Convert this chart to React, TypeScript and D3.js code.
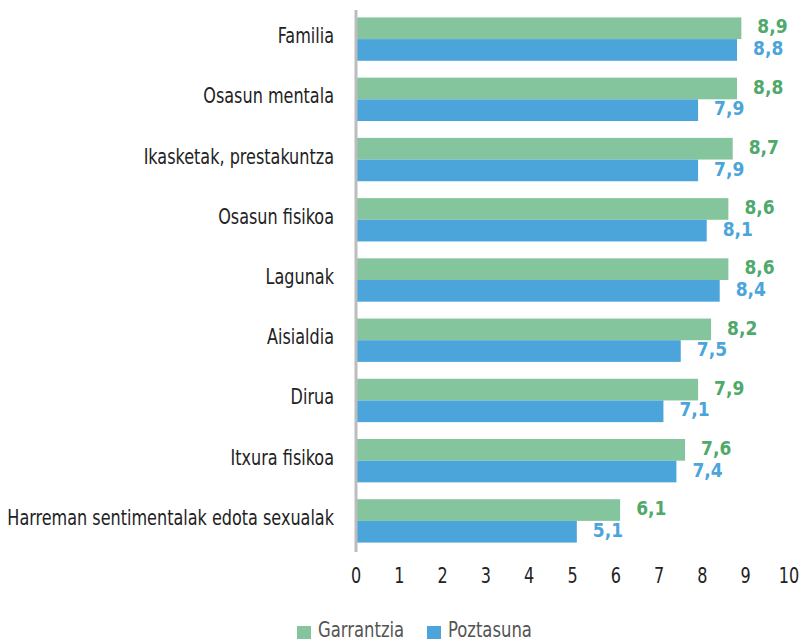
import React from 'react';
import * as d3 from 'd3';

const categories = [
  'Familia',
  'Osasun mentala',
  'Ikasketak, prestakuntza',
  'Osasun fisikoa',
  'Lagunak',
  'Aisialdia',
  'Dirua',
  'Itxura fisikoa',
  'Harreman sentimentalak edota sexualak',
];
const garrantzia = [8.9, 8.8, 8.7, 8.6, 8.6, 8.2, 7.9, 7.6, 6.1];
const poztasuna = [8.8, 7.9, 7.9, 8.1, 8.4, 7.5, 7.1, 7.4, 5.1];
const seriesNames = ['Garrantzia', 'Poztasuna'];
const xTicks = [0, 1, 2, 3, 4, 5, 6, 7, 8, 9, 10];

const barColors = ['#85C59E', '#4BA5DB'];
const labelColors = ['#4FA96A', '#4BA5DB'];
const font = '"DejaVu Sans Condensed", "DejaVu Sans", sans-serif';

// condensed text: squeeze the glyphs horizontally to get the narrow look
const Txt = ({ x, y, anchor = 'start', sx = 0.85, size = 21, children, ...rest }: any) => (
  <text
    transform={`translate(${x},${y}) scale(${sx},1)`}
    textAnchor={anchor}
    dominantBaseline="central"
    fontSize={size}
    {...rest}
  >
    {children}
  </text>
);

const App = () => {
  const width = 801;
  const height = 641;
  const x = d3.scaleLinear().domain([0, 10]).range([356, 789]);
  const y = d3.scaleBand().domain(categories).range([9, 551]).paddingInner(0.28).paddingOuter(0.14);
  const sub = d3.scaleBand().domain(seriesNames).range([0, y.bandwidth()]);
  const fmt = (v: number) => v.toFixed(1).replace('.', ',');
  const series = [garrantzia, poztasuna];

  return (
    <svg width={width} height={height} style={{ position: 'absolute', left: 0, top: 0, fontFamily: font }}>
      {categories.map((c, i) => (
        <g key={c}>
          <Txt x={334} y={(y(c) as number) + y.bandwidth() / 2 - 3} anchor="end" fill="#222">
            {c}
          </Txt>
          {series.map((s, j) => {
            const yy = (y(c) as number) + (sub(seriesNames[j]) as number);
            return (
              <g key={j}>
                <rect x={x(0)} y={yy} width={x(s[i]) - x(0)} height={sub.bandwidth()} fill={barColors[j]} />
                <Txt
                  x={x(s[i]) + 16}
                  y={yy + sub.bandwidth() / 2 - 1.5}
                  sx={0.95}
                  size={20}
                  fontWeight="bold"
                  fill={labelColors[j]}
                >
                  {fmt(s[i])}
                </Txt>
              </g>
            );
          })}
        </g>
      ))}
      <line x1={x(0)} x2={x(0)} y1={10} y2={552} stroke="#BDBDBD" strokeWidth={3} />
      {xTicks.map((t) => (
        <Txt key={t} x={x(t)} y={576} anchor="middle" fill="#222">
          {t}
        </Txt>
      ))}
      {seriesNames.map((n, j) => {
        const lx = [297, 427][j];
        return (
          <g key={n}>
            <rect x={lx} y={626} width={14} height={13} fill={barColors[j]} />
            <text
              transform={`translate(${lx + 21},637) scale(0.87,1)`}
              fontSize={21}
              fill="#555"
            >
              {n}
            </text>
          </g>
        );
      })}
    </svg>
  );
};

export default App;
